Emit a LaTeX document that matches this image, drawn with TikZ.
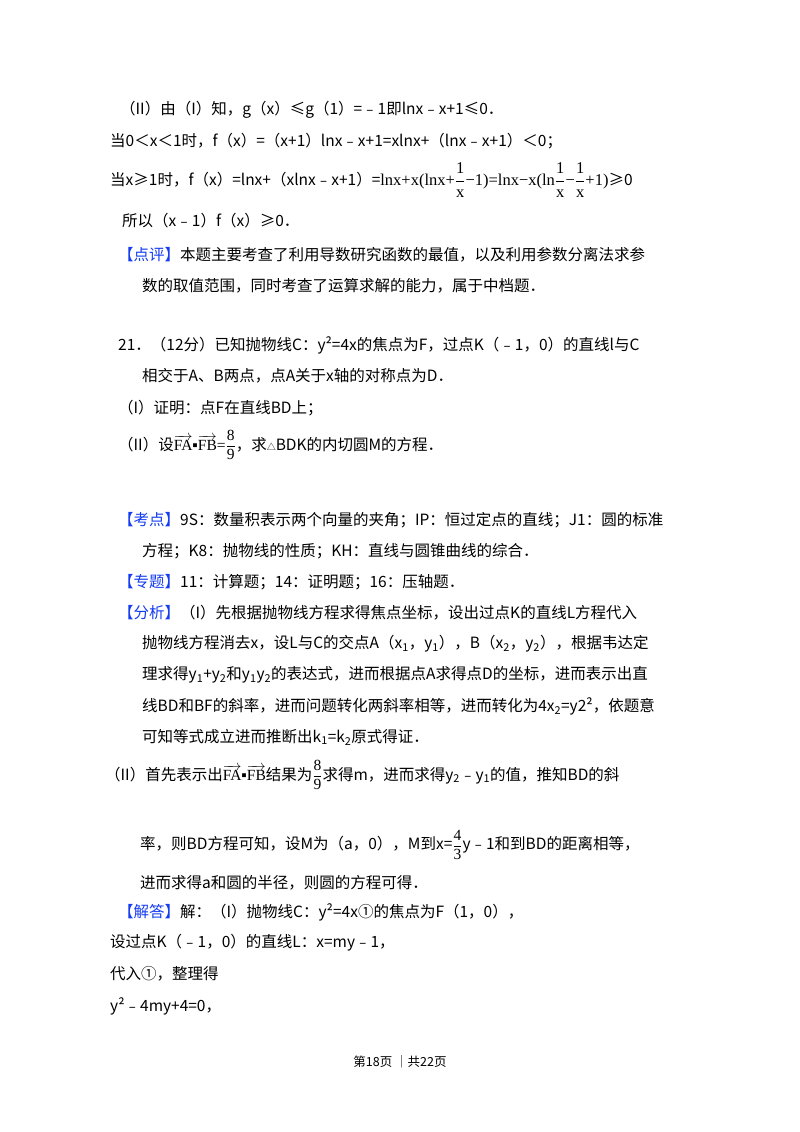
\documentclass[tikz,border=0pt]{standalone}
\usepackage{fontspec}
\setmainfont{Noto Sans CJK SC}
\newfontfamily\mathf{Liberation Serif}
\definecolor{kblue}{RGB}{20,60,240}
\newcommand{\B}[1]{\textcolor{kblue}{【#1】}}
\newcommand{\fr}[2]{$\displaystyle\frac{\hbox{\mathf #1}}{\hbox{\mathf #2}}$}
\newcommand{\vv}[1]{$\overrightarrow{\hbox{\mathf #1}}$}
\newcommand{\sbx}[1]{\textsubscript{#1}}
\begin{document}
\begin{tikzpicture}[x=1pt,y=1pt,every node/.style={anchor=west,inner sep=0pt,font=\fontsize{15.5}{18}\selectfont}]
\useasboundingbox[fill=white] (0,0) rectangle (800,-1132);
\node (l1) at (120,-110) {（II）由（I）知，g（x）≤g（1）=﹣1即lnx﹣x+1≤0．};
\node (l2) at (110,-141) {当0＜x＜1时，f（x）=（x+1）lnx﹣x+1=xlnx+（lnx﹣x+1）＜0；};
\node (l3) at (110,-180) {当x≥1时，f（x）=lnx+（xlnx﹣x+1）={\mathf\fontsize{16.5}{18}\selectfont lnx+x(lnx+\fr{1}{x}−1)=lnx−x(ln\fr{1}{x}−\fr{1}{x}+1)}≥0};
\node (l4) at (122,-221) {所以（x﹣1）f（x）≥0．};
\node (l5) at (118,-255) {\B{点评}本题主要考查了利用导数研究函数的最值，以及利用参数分离法求参};
\node (l6) at (142,-286) {数的取值范围，同时考查了运算求解的能力，属于中档题．};
\node (l7) at (118,-345) {21．（12分）已知抛物线C：y²=4x的焦点为F，过点K（﹣1，0）的直线l与C};
\node (l8) at (142,-376) {相交于A、B两点，点A关于x轴的对称点为D．};
\node (l9) at (118,-408) {（I）证明：点F在直线BD上；};
\node (l10) at (118,-445) {（II）设\vv{FA}{\mathf▪}\vv{FB}{\mathf =}\fr{8}{9}，求{\small △}BDK的内切圆M的方程．};
\node (l11) at (118,-520) {\B{考点}9S：数量积表示两个向量的夹角；IP：恒过定点的直线；J1：圆的标准};
\node (l12) at (142,-551) {方程；K8：抛物线的性质；KH：直线与圆锥曲线的综合．};
\node (l13) at (118,-582) {\B{专题}11：计算题；14：证明题；16：压轴题．};
\node (l14) at (118,-613) {\B{分析}（I）先根据抛物线方程求得焦点坐标，设出过点K的直线L方程代入};
\node (l15) at (142,-644) {抛物线方程消去x，设L与C的交点A（x\sbx{1}，y\sbx{1}），B（x\sbx{2}，y\sbx{2}），根据韦达定};
\node (l16) at (142,-675) {理求得y\sbx{1}+y\sbx{2}和y\sbx{1}y\sbx{2}的表达式，进而根据点A求得点D的坐标，进而表示出直};
\node (l17) at (142,-706) {线BD和BF的斜率，进而问题转化两斜率相等，进而转化为4x\sbx{2}=y2²，依题意};
\node (l18) at (142,-737) {可知等式成立进而推断出k\sbx{1}=k\sbx{2}原式得证．};
\node (l19) at (105,-775) {（II）首先表示出\vv{FA}{\mathf▪}\vv{FB}结果为\fr{8}{9}求得m，进而求得y\sbx{2}﹣y\sbx{1}的值，推知BD的斜};
\node (l20) at (140,-845) {率，则BD方程可知，设M为（a，0），M到x=\fr{4}{3}y﹣1和到BD的距离相等，};
\node (l21) at (140,-883) {进而求得a和圆的半径，则圆的方程可得．};
\node (l22) at (118,-912) {\B{解答}解：（I）抛物线C：y²=4x①的焦点为F（1，0），};
\node (l23) at (110,-943) {设过点K（﹣1，0）的直线L：x=my﹣1，};
\node (l24) at (110,-974) {代入①，整理得};
\node (l25) at (110,-1006) {y²﹣4my+4=0，};
\node[anchor=center,font=\fontsize{12.5}{14}\selectfont] (ft) at (400,-1062) {第18页 ｜共22页};
\end{tikzpicture}
\end{document}
